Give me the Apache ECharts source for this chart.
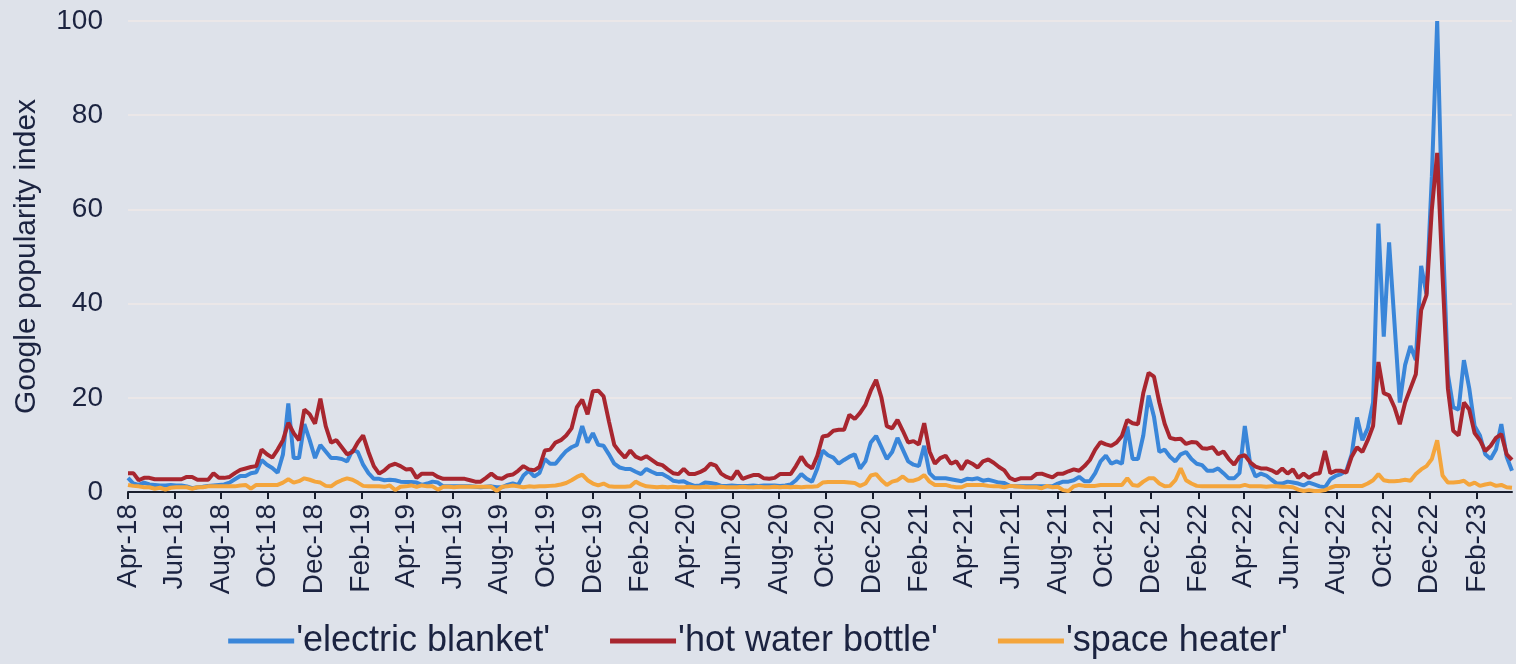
<!DOCTYPE html>
<html>
<head>
<meta charset="utf-8">
<script src="https://cdn.jsdelivr.net/npm/echarts@6/dist/echarts.min.js"></script>
<style>
html,body{margin:0;padding:0;background:#dee2ea;}
#chart{width:1516px;height:664px;}
</style>
</head>
<body>
<div id="chart"></div>
<script>
// Weekly Google Trends data, first week starting 1 Apr 2018
const firstWeek = [2018, 3, 1];
const tickLabels = ['Apr-18','Jun-18','Aug-18','Oct-18','Dec-18','Feb-19','Apr-19','Jun-19','Aug-19','Oct-19','Dec-19','Feb-20','Apr-20','Jun-20','Aug-20','Oct-20','Dec-20','Feb-21','Apr-21','Jun-21','Aug-21','Oct-21','Dec-21','Feb-22','Apr-22','Jun-22','Aug-22','Oct-22','Dec-22','Feb-23'];
const seriesNames = ["'electric blanket'", "'hot water bottle'", "'space heater'"];

const electricBlanket = [
3,1.8,1.5,2,1.6,1.5,1.4,1.4,1.5,1.4,
1.4,1.2,0.8,1,1.1,1.3,1.4,1.5,1.6,2,
2.7,3.4,3.4,4,4.2,6.8,5.8,5.1,4.1,8,
18.8,7.2,7.2,14.4,11,7.2,10,8.6,7.2,7.2,
7,6.5,8.9,8.5,5.8,4,2.8,2.8,2.5,2.6,
2.5,2.2,2.1,2.1,2,1.5,1.8,2.2,2,1.2,
1.2,1.2,1.2,1.2,1.2,1.1,1,1.1,1.2,1,
1,1.5,1.8,1.5,3.5,4.5,3.3,4,7,6,
6,7.4,8.7,9.5,10,14,10.5,12.5,10,9.8,
8,6,5.2,4.9,4.9,4.3,3.8,4.9,4.3,3.8,
3.8,3.2,2.4,2.2,2.3,1.7,1.3,1.4,2,1.9,
1.7,1.3,1.3,1.4,1.3,1.3,1.3,1.4,1.3,1.4,
1.4,1.4,1.3,1.4,1.6,2.5,3.8,2.8,2.2,5,
8.8,7.8,7.3,6,6.8,7.5,8,5,6.5,10.5,
11.9,9.5,7,8.5,11.5,9,6.5,5.8,5.5,9.8,
4,2.9,2.9,2.9,2.7,2.5,2.3,2.8,2.7,2.9,
2.4,2.6,2.3,2,1.9,1.3,1.2,1.2,1.2,1.2,
1.2,1.2,1.2,1.2,1.8,2.2,2.2,2.5,3.2,2.3,
2.3,4,6.5,7.7,6,6.5,6,13.9,7,7,
12,20.5,16,8.5,9,7.5,6.5,8,8.5,7,
6,5.7,4.5,4.5,5,4,2.9,2.9,4,14,
6,3.3,3.9,3.5,2.6,1.8,1.8,2.2,2,1.8,
1.4,2,1.6,1.2,1,2.7,3.4,3.8,4.5,8,
15.8,11,13.5,19,57,33,53,36,19,27,
31,28,48,42,67,100,56,25,18,17.5,
28,22,14,12,8,7,9,14.4,7.5,4.5
];

const hotWaterBottle = [
4,4,2.5,3,3,2.7,2.7,2.7,2.7,2.7,
2.7,3.2,3.2,2.6,2.6,2.6,4,3,3,3.2,
4,4.7,5,5.3,5.5,9,8,7.3,9,11,
14.7,12.5,11,17.5,16.5,14.5,19.8,14,10.5,11,
9.5,8,8.5,10.5,12,8.5,5.5,3.9,4.6,5.6,
6,5.5,4.8,4.9,3,3.9,3.9,3.9,3.2,2.8,
2.8,2.8,2.8,2.8,2.5,2.2,2.2,3,3.9,3,
2.8,3.5,3.7,4.5,5.5,4.8,4.6,5.3,8.8,9,
10.5,11,12,13.5,18,19.6,16.5,21.4,21.5,20.3,
15,10,8.5,7.3,8.8,7.5,7,7.6,6.8,6,
5.7,4.8,4,3.8,4.9,3.8,3.8,4.2,4.8,6,
5.6,3.9,3.2,2.8,4.5,2.8,3.2,3.6,3.6,2.9,
2.8,3,3.8,3.8,3.8,5.5,7.5,5.8,5,7.7,
11.8,12,13,13.2,13.2,16.4,15.5,16.8,18.5,21.5,
23.8,20,14,13.5,15.3,13,10.5,10.8,10.1,14.6,
8.6,6,7.2,7.7,6,6.5,4.8,6.6,6,5.2,
6.5,6.9,6.2,5.3,4.6,3,2.5,2.9,2.9,2.9,
3.8,3.9,3.5,3.1,3.9,3.9,4.4,4.8,4.5,5.5,
6.8,9,10.6,10.1,9.8,10.5,11.9,15.3,14.6,14.4,
21,25.3,24.5,19,14.5,11.5,11.2,11.3,10.2,10.6,
10.5,9.3,9.2,9.5,8,8.6,7,5.8,7.5,7.8,
6.3,5.4,5,5,4.6,4,5,3.9,4.8,3,
3.9,3,3.8,4,8.7,4,4.5,4.5,4.1,7.5,
9.5,8.5,11,14,27.6,21,20.5,18,14.4,19,
22,25,38.6,41.8,60,72,46,22,13,12,
19,17.5,12.5,11,8.7,9.8,11.5,12.3,8,6.8
];

const spaceHeater = [
1.5,1.3,1.2,1,1,0.7,0.9,0.5,0.9,1,
1,1,0.7,1,1,1.2,1.2,1.2,1.2,1.2,
1.2,1.4,1.5,0.7,1.5,1.5,1.5,1.5,1.5,2,
2.7,2,2.3,2.9,2.6,2.2,2,1.3,1.2,2,
2.5,2.9,2.6,2,1.3,1.2,1.2,1.2,1.1,1.4,
0.4,1.1,1.2,1.4,1.1,1.4,1.2,1.2,0.5,1.1,
1.1,1,1.1,1.1,1.1,1.1,1.1,1.1,1.1,0.2,
1.1,1.2,1.4,1.2,1,1.2,1.1,1.2,1.2,1.3,
1.4,1.6,1.9,2.5,3.2,3.7,2.5,1.8,1.4,1.8,
1.2,1.1,1.1,1.1,1.2,2.2,1.6,1.2,1.1,1,
1.1,1,1.1,1,1,1.1,1,1,1.1,1,
1,1.1,1,1,1,1.1,1,1,1.1,1,
1,1.1,1,1.1,1,1.1,1,1.1,1.1,1.2,
2,2.1,2.1,2.1,2.1,2,1.9,1.3,1.8,3.5,
3.8,2.5,1.5,2.2,2.5,3.3,2.4,2.4,2.8,3.6,
2.2,1.5,1.5,1.5,1.2,1,1,1.5,1.5,1.5,
1.5,1.3,1.2,1.2,1,1.3,1.2,1.1,1,1,
1,0.8,1.3,1,1.1,0.4,0.2,1.2,1.5,1.3,
1.3,1.3,1.5,1.5,1.5,1.5,1.5,2.9,1.5,1.3,
2.2,2.9,2.9,1.8,1.2,1.3,2.5,5,2.5,1.8,
1.3,1.2,1.2,1.2,1.2,1.2,1.2,1.2,1.2,1.5,
1.2,1.2,1.2,1.1,1.2,1.2,1.1,1.1,1,0.5,
0.2,0.4,0.2,0.2,0.4,0.9,1.3,1.3,1.3,1.3,
1.3,1.3,1.8,2.5,3.8,2.5,2.3,2.3,2.4,2.6,
2.4,3.8,4.8,5.5,7,11,3.5,2,2,2.1,
2.4,1.5,2,1.3,1.6,1.8,1.3,1.5,1,0.9
];

const seriesColors = ['#3a86d9', '#a8262f', '#f4a53c'];
const textColor = '#1b2340';
const fontFamily = '"Liberation Sans", Arial, Helvetica, sans-serif';

const DAY = 86400000;
const weekStart = Date.UTC(firstWeek[0], firstWeek[1], firstWeek[2]);
const weekDates = electricBlanket.map((_, i) => weekStart + i * 7 * DAY);

const monthIndex = {Jan:0,Feb:1,Mar:2,Apr:3,May:4,Jun:5,Jul:6,Aug:7,Sep:8,Oct:9,Nov:10,Dec:11};
const tickTimes = tickLabels.map(l => {
  const p = l.split('-');
  return Date.UTC(2000 + Number(p[1]), monthIndex[p[0]], 1);
});
const labelByTime = new Map(tickTimes.map((t, i) => [t, tickLabels[i]]));

function pairs(values) { return weekDates.map((d, i) => [d, values[i]]); }
const allValues = [electricBlanket, hotWaterBottle, spaceHeater];

const chart = echarts.init(document.getElementById('chart'), null, {renderer: 'canvas'});
chart.setOption({
  backgroundColor: '#dee2ea',
  animation: false,
  textStyle: {fontFamily: fontFamily},
  grid: {left: 128, right: 4, top: 21, bottom: 172},
  legend: {
    show: true,
    left: 'center',
    top: 618,
    icon: 'rect',
    itemWidth: 66,
    itemHeight: 5,
    itemGap: 60,
    data: seriesNames,
    textStyle: {fontSize: 36, color: textColor, fontFamily: fontFamily, padding: [0, 0, 0, -3]}
  },
  xAxis: {
    type: 'value',
    min: weekDates[0],
    max: weekDates[weekDates.length - 1],
    axisLine: {show: true, onZero: false, lineStyle: {color: '#1a1f2e', width: 2}},
    axisTick: {show: true, customValues: tickTimes, length: 7, lineStyle: {color: '#1a1f2e', width: 2}},
    axisLabel: {
      show: true,
      customValues: tickTimes,
      rotate: 90,
      margin: 12,
      fontSize: 28,
      color: textColor,
      fontFamily: fontFamily,
      hideOverlap: false,
      formatter: function (v) { return labelByTime.get(v) || ''; }
    },
    splitLine: {show: false}
  },
  yAxis: {
    type: 'value',
    min: 0,
    max: 100,
    interval: 20,
    name: 'Google popularity index',
    nameLocation: 'middle',
    nameRotate: 90,
    nameGap: 86,
    nameTextStyle: {fontSize: 30, color: textColor, fontFamily: fontFamily},
    axisLine: {show: false},
    axisTick: {show: false},
    axisLabel: {fontSize: 28, color: textColor, margin: 25, fontFamily: fontFamily},
    splitLine: {show: true, lineStyle: {color: '#ebe7e8', width: 2}}
  },
  series: seriesNames.map((name, k) => ({
    name: name,
    type: 'line',
    data: pairs(allValues[k]),
    symbol: 'none',
    showSymbol: false,
    z: 2 + k,
    lineStyle: {color: seriesColors[k], width: 4},
    itemStyle: {color: seriesColors[k]},
    emphasis: {disabled: true}
  }))
});
</script>
</body>
</html>
